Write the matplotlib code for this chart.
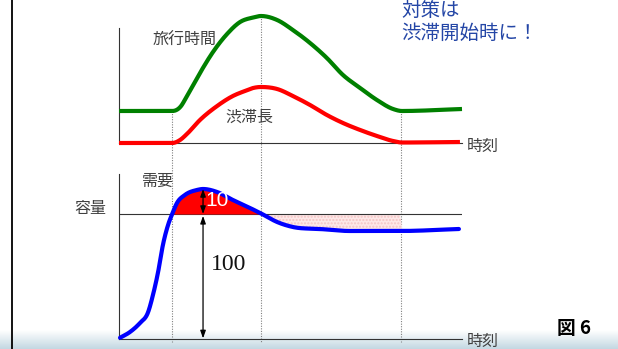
import numpy as np
import matplotlib
matplotlib.use("Agg")
import matplotlib.pyplot as plt
from matplotlib.bezier import BezierSegment
from matplotlib.colors import LinearSegmentedColormap

plt.rcParams['font.family'] = ['Noto Sans CJK JP', 'DejaVu Sans']

# ---- data (time in arbitrary units 0..100) ----
t_jam_start = 15.5
t_jam_peak = 41.5
t_jam_end = 82.2

travel_t = [0, 13, 15.5, 18.1, 19.8, 23.6, 27.4, 31.5, 35.3, 39.1, 41.4, 46.1,
            50.7, 55.7, 60.6, 65.3, 70.3, 75.2, 79.9, 82.5, 100]
travel_v = [32, 32, 32, 37, 47, 70, 91, 109, 121, 125.5, 127, 123,
            113, 100, 85, 68, 55, 43, 34, 32, 34]

jam_t = [0, 13, 15.5, 17.8, 19.8, 23.6, 28.6, 33.2, 36.7, 39.1, 41.4, 46.1,
         50.7, 55.7, 60.6, 65.3, 70.3, 75.2, 79.9, 82.5, 99.4]
jam_v = [0, 0, 0, 3, 9, 23, 37, 47, 52, 55, 56, 54,
         47, 38, 28, 20, 13, 7, 2, 0.5, 1]

demand_t = [0.3, 3.2, 6.1, 8.5, 9.9, 11.4, 12.8, 14.3, 15.5, 16.9, 19.2,
            22.7, 24.5, 28.6, 33.2, 38.2, 41.7, 46.1, 50.7, 58.6, 67.3, 81.9, 99.1]
demand_v = [1, 5.6, 12.8, 21.6, 35.2, 53.6, 75.2, 91.2, 100, 104.4, 107.6,
            109.6, 110, 108.8, 105.6, 102.4, 100, 93.6, 89.6, 88, 86.4, 86.4, 88]

capacity = 100
peak_demand = 110
t_peak_demand = 24.5

W, H = 618, 349


def smooth(xs, ys, steps=24):
    """Smooth line through the given points (cubic Bezier pieces)."""
    x = np.asarray(xs, float)
    y = np.asarray(ys, float)
    h = np.diff(x)
    d = np.diff(y) / h
    m = np.zeros_like(x)
    m[0], m[-1] = d[0], d[-1]
    for i in range(1, len(x) - 1):
        if d[i - 1] * d[i] > 0:
            s = (h[i - 1] * d[i] + h[i] * d[i - 1]) / (h[i - 1] + h[i])
            lim = 3 * min(abs(d[i - 1]), abs(d[i]))
            m[i] = np.sign(s) * min(abs(s), lim)
    out = [np.array([[x[0], y[0]]])]
    ts = np.linspace(0, 1, steps)[1:]
    for i in range(len(x) - 1):
        c = np.array([[x[i], y[i]],
                      [x[i] + h[i] / 3, y[i] + m[i] * h[i] / 3],
                      [x[i + 1] - h[i] / 3, y[i + 1] - m[i + 1] * h[i] / 3],
                      [x[i + 1], y[i + 1]]])
        out.append(BezierSegment(c).point_at_t(ts))
    pts = np.vstack(out)
    return pts[:, 0], pts[:, 1]


fig = plt.figure(figsize=(W / 100, H / 100), dpi=100)


def fx(x):
    return x / W


def fy(y):
    return 1 - y / H


# background: slide edge and bottom gradient
bg = fig.add_axes([0, 0, 1, 1], zorder=-5)
bg.set_xlim(0, W)
bg.set_ylim(H, 0)
bg.axis('off')
grad = np.linspace(0, 1, 64).reshape(-1, 1)
cmap = LinearSegmentedColormap.from_list('g', ['#ffffff', '#c3d8e2'])
bg.imshow(grad, extent=[0, W, H, 330], cmap=cmap, aspect='auto', zorder=0)
bg.plot([12, 12], [0, H], color='black', lw=1.3, zorder=1)

# ---- top panel: travel time & jam length ----
ax1 = fig.add_axes([fx(119), fy(143), fx(462) - fx(119), fy(0) - fy(143)])
ax1.set_xlim(0, 100)
ax1.set_ylim(0, 143)
ax1.patch.set_alpha(0)
for s in ['top', 'right']:
    ax1.spines[s].set_visible(False)
ax1.spines['left'].set_bounds(0, 115)
for s in ['left', 'bottom']:
    ax1.spines[s].set_color('#333333')
    ax1.spines[s].set_linewidth(0.8)
ax1.set_xticks([])
ax1.set_yticks([])

gx, gy = smooth(travel_t, travel_v)
rx, ry = smooth(jam_t, jam_v)
ax1.plot(gx, gy, color='#008000', lw=3, solid_joinstyle='round',
         solid_capstyle='butt', clip_on=False, zorder=3)
ax1.plot(rx, ry, color='#ff0000', lw=3, solid_joinstyle='round',
         solid_capstyle='butt', clip_on=False, zorder=3)

# dotted guides running down through both panels
for tt in (t_jam_start, t_jam_peak, t_jam_end):
    top = np.interp(tt, gx, gy)
    ax1.plot([tt, tt], [top, -199], color='#808080', lw=0.8,
             linestyle=(0, (1, 1.3)), clip_on=False, zorder=1)


# ---- bottom panel: demand vs capacity ----
def fwd(v):
    v = np.asarray(v, dtype=float)
    return np.where(v <= capacity, v, capacity + (v - capacity) * 2.0)


def inv(u):
    u = np.asarray(u, dtype=float)
    return np.where(u <= capacity, u, capacity + (u - capacity) / 2.0)


ax2 = fig.add_axes([fx(119), fy(339), fx(462) - fx(119), fy(174) - fy(339)])
ax2.set_yscale('function', functions=(fwd, inv))
ax2.set_xlim(0, 100)
ax2.set_ylim(0, 116)
ax2.patch.set_alpha(0)
for s in ['top', 'right']:
    ax2.spines[s].set_visible(False)
for s in ['left', 'bottom']:
    ax2.spines[s].set_color('#333333')
    ax2.spines[s].set_linewidth(0.8)
ax2.set_xticks([])
ax2.set_yticks([])
ax2.yaxis.set_minor_locator(matplotlib.ticker.NullLocator())

bx, bu = smooth(demand_t, fwd(demand_v))
by = inv(bu)
ax2.axhline(capacity, color='#333333', lw=0.8, zorder=2)
ax2.fill_between(bx, by, capacity, where=(by >= capacity) & (bx <= t_jam_peak + 1),
                 color='#ff0000', lw=0, interpolate=True, zorder=2)
ax2.fill_between(bx, by, capacity, where=(bx >= t_jam_peak) & (bx <= t_jam_end),
                 facecolor='#fde8e8', edgecolor='#f4c4c4', hatch='.....', lw=0,
                 interpolate=True, zorder=1)
ax2.plot(bx, by, color='#0000ff', lw=3, solid_joinstyle='round',
         solid_capstyle='round', clip_on=False, zorder=4)

arrow = dict(arrowstyle='<|-|>,head_length=0.45,head_width=0.16', color='black',
             lw=0.9, shrinkA=0, shrinkB=0)
ax2.annotate('', xy=(t_peak_demand, peak_demand), xytext=(t_peak_demand, capacity),
             arrowprops=arrow, zorder=5)
ax2.annotate('', xy=(t_peak_demand, capacity - 1.5), xytext=(t_peak_demand, 0.5),
             arrowprops=arrow, zorder=5)
ax2.text(t_peak_demand + 0.8, (capacity + peak_demand) / 2 + 0.3,
         f'{peak_demand - capacity}', color='white', fontsize=15,
         family=['Liberation Sans'], ha='left', va='center', zorder=6)
ax2.text(t_peak_demand + 2.2, 60, f'{capacity}', color='#111111', fontsize=17,
         family=['Liberation Serif'], ha='left', va='center', zorder=6)

# ---- labels ----
lab = dict(color='#404040', fontsize=11.5, va='center')
fig.text(fx(185), fy(40), '旅行時間', ha='center', **lab)
fig.text(fx(249), fy(117), '渋滞長', ha='center', **lab)
fig.text(fx(467), fy(146), '時刻', ha='left', **lab)
fig.text(fx(90), fy(208), '容量', ha='center', **lab)
fig.text(fx(158), fy(181), '需要', ha='center', **lab)
fig.text(fx(467), fy(341), '時刻', ha='left', **lab)

blue = dict(color='#2446a6', fontsize=14, ha='left', va='center')
fig.text(fx(401), fy(10), '対策は', **blue)
fig.text(fx(401), fy(33), '渋滞開始時に！', **blue)

fig.text(fx(557), fy(328), '図 6', color='black', fontsize=13.5,
         fontweight='bold', ha='left', va='center')

fig.savefig('out.png', dpi=100)
